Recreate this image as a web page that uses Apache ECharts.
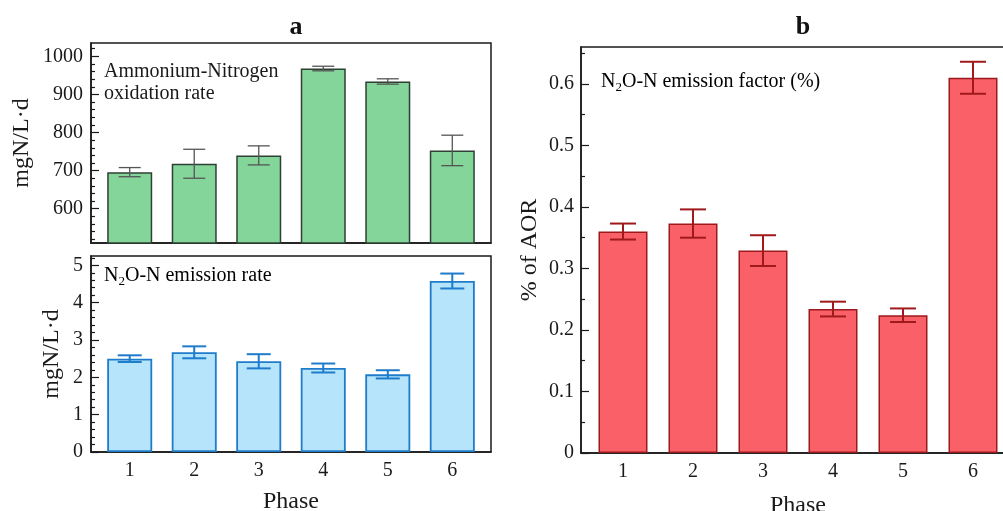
<!DOCTYPE html>
<html lang="en">
<head>
    <meta charset="utf-8">
    <title>Phase rates</title>
    <script src="https://cdn.jsdelivr.net/npm/echarts@6/dist/echarts.min.js"></script>
    <style>
        html, body { margin: 0; padding: 0; background: #fff; }
    </style>
</head>
<body>
    <div id="main" style="width:1003px;height:511px;"></div>

    <script type="text/javascript">

    // data
    var phases = [1, 2, 3, 4, 5, 6];
    var aorMean = [696, 718, 740, 968, 934, 753];
    var aorErr = [12, 38, 25, 6, 7, 40];
    var n2oMean = [2.50, 2.67, 2.43, 2.25, 2.08, 4.58];
    var n2oErr = [0.09, 0.16, 0.19, 0.12, 0.11, 0.20];
    var efMean = [0.360, 0.373, 0.329, 0.234, 0.224, 0.610];
    var efErr = [0.013, 0.023, 0.025, 0.012, 0.011, 0.026];

    // tick values
    var aorTicks = [600, 700, 800, 900, 1000];
    var aorMinor = [520, 540, 560, 580, 620, 640, 660, 680, 720, 740, 760, 780,
                    820, 840, 860, 880, 920, 940, 960, 980, 1020];
    var n2oTicks = [0, 1, 2, 3, 4, 5];
    var n2oMinor = [0.2, 0.4, 0.6, 0.8, 1.2, 1.4, 1.6, 1.8, 2.2, 2.4, 2.6, 2.8,
                    3.2, 3.4, 3.6, 3.8, 4.2, 4.4, 4.6, 4.8, 5.2];
    var efTicks = [0, 0.1, 0.2, 0.3, 0.4, 0.5, 0.6];
    var efMinor = [0.05, 0.15, 0.25, 0.35, 0.45, 0.55, 0.65];

    var FONT = 'Liberation Serif';
    var INK = '#1a1a1a';

    function barData(mean) {
        return phases.map(function (p, i) { return [p, mean[i]]; });
    }
    function errData(mean, err) {
        return phases.map(function (p, i) { return [p, mean[i] - err[i], mean[i] + err[i]]; });
    }

    // error bar drawn with the axis scales
    function errRender(cap, color, width) {
        return function (params, api) {
            var x = api.value(0);
            var top = api.coord([x, api.value(2)]);
            var bot = api.coord([x, api.value(1)]);
            var st = { stroke: color, lineWidth: width };
            return {
                type: 'group',
                children: [
                    { type: 'line', shape: { x1: top[0], y1: top[1], x2: bot[0], y2: bot[1] }, style: st },
                    { type: 'line', shape: { x1: top[0] - cap, y1: top[1], x2: top[0] + cap, y2: top[1] }, style: st },
                    { type: 'line', shape: { x1: bot[0] - cap, y1: bot[1], x2: bot[0] + cap, y2: bot[1] }, style: st }
                ]
            };
        };
    }

    function plain(v) { return String(v); }

    function xAxisFor(grid, showLabels, nameText, gap) {
        return {
            type: 'value', gridIndex: grid, min: 0.4, max: 6.6,
            splitLine: { show: false },
            axisLine: { show: true, onZero: false, lineStyle: { color: INK, width: 1.5 } },
            axisTick: { show: false },
            axisLabel: { show: showLabels, customValues: phases, margin: 9, formatter: plain,
                         fontFamily: FONT, fontSize: 20, color: INK },
            name: nameText, nameLocation: 'middle', nameGap: gap,
            nameTextStyle: { fontFamily: FONT, fontSize: 24, color: INK }
        };
    }

    function yMajor(grid, min, max, ticks, nameText, gap, margin) {
        return {
            type: 'value', gridIndex: grid, min: min, max: max, position: 'left',
            splitLine: { show: false },
            axisLine: { show: true, onZero: false, lineStyle: { color: INK, width: 1.5 } },
            axisTick: { show: true, inside: true, length: 8, customValues: ticks,
                        lineStyle: { color: INK, width: 1.2 } },
            axisLabel: { customValues: ticks, margin: margin, formatter: plain,
                         fontFamily: FONT, fontSize: 20, color: INK },
            name: nameText, nameLocation: 'middle', nameGap: gap, nameRotate: 90,
            nameTextStyle: { fontFamily: FONT, fontSize: 24, color: INK }
        };
    }

    function yMinor(grid, min, max, ticks) {
        return {
            type: 'value', gridIndex: grid, min: min, max: max, position: 'left', offset: 0,
            splitLine: { show: false },
            axisLine: { show: false },
            axisTick: { show: true, inside: true, length: 4, customValues: ticks,
                        lineStyle: { color: INK, width: 1.2 } },
            axisLabel: { show: false }
        };
    }

    var gridStyle = { show: true, borderColor: INK, borderWidth: 1.5,
                      backgroundColor: 'transparent', outerBoundsMode: 'none', containLabel: false };

    var myChart = echarts.init(document.getElementById('main'), null, { renderer: 'canvas' });

    var txt = { fontFamily: FONT, fontSize: 20, fill: INK };
    var rich = {
        n: { fontFamily: FONT, fontSize: 20, lineHeight: 24, verticalAlign: 'middle', color: INK },
        s: { fontFamily: FONT, fontSize: 13, lineHeight: 13, verticalAlign: 'bottom', color: INK }
    };

    myChart.setOption({
        animation: false,
        title: [
            { text: 'a', left: 291, top: 9, textAlign: 'center',
              textStyle: { fontFamily: FONT, fontSize: 26, fontWeight: 'bold', color: '#111' } },
            { text: 'b', left: 798, top: 9, textAlign: 'center',
              textStyle: { fontFamily: FONT, fontSize: 26, fontWeight: 'bold', color: '#111' } }
        ],
        grid: [
            Object.assign({ left: 91, top: 43, width: 400, height: 200 }, gridStyle),
            Object.assign({ left: 91, top: 256, width: 400, height: 196 }, gridStyle),
            Object.assign({ left: 581, top: 47, width: 434, height: 406 }, gridStyle)
        ],
        xAxis: [
            xAxisFor(0, false, '', 0),
            xAxisFor(1, true, 'Phase', 38),
            xAxisFor(2, true, 'Phase', 41)
        ],
        yAxis: [
            yMajor(0, 510, 1035, aorTicks, 'mgN/L·d', 57, 8),
            yMinor(0, 510, 1035, aorMinor),
            yMajor(1, 0, 5.25, n2oTicks, 'mgN/L·d', 27, 8),
            yMinor(1, 0, 5.25, n2oMinor),
            yMajor(2, 0, 0.66, efTicks, '% of AOR', 39, 7),
            yMinor(2, 0, 0.66, efMinor)
        ],
        graphic: [
            { type: 'text', left: 104, top: 61, z: 10,
              style: Object.assign({ text: 'Ammonium-Nitrogen\noxidation rate', lineHeight: 22 }, txt) },
            { type: 'text', left: 104, top: 266, z: 10,
              style: { text: '{n|N}{s|2}{n|O-N emission rate}', rich: rich } },
            { type: 'text', left: 601, top: 72, z: 10,
              style: { text: '{n|N}{s|2}{n|O-N emission factor (%)}', rich: rich } }
        ],
        series: [
            {
                name: 'AOR', type: 'bar', xAxisIndex: 0, yAxisIndex: 0,
                barWidth: 45, data: barData(aorMean),
                itemStyle: { color: '#84d59a', borderColor: '#2e4034', borderWidth: 1.5 }
            },
            {
                name: 'AOR err', type: 'custom', xAxisIndex: 0, yAxisIndex: 0, z: 5,
                encode: { x: 0, y: [1, 2] },
                renderItem: errRender(11, '#555', 1.3), data: errData(aorMean, aorErr)
            },
            {
                name: 'N2O rate', type: 'bar', xAxisIndex: 1, yAxisIndex: 2,
                barWidth: 45, data: barData(n2oMean),
                itemStyle: { color: '#b5e4fb', borderColor: '#1f7ccb', borderWidth: 1.8 }
            },
            {
                name: 'N2O err', type: 'custom', xAxisIndex: 1, yAxisIndex: 2, z: 5,
                encode: { x: 0, y: [1, 2] },
                renderItem: errRender(12, '#1f7ccb', 2), data: errData(n2oMean, n2oErr)
            },
            {
                name: 'EF', type: 'bar', xAxisIndex: 2, yAxisIndex: 4,
                barWidth: 49, data: barData(efMean),
                itemStyle: { color: '#fa6067', borderColor: '#9c1a1d', borderWidth: 1.5 }
            },
            {
                name: 'EF err', type: 'custom', xAxisIndex: 2, yAxisIndex: 4, z: 5,
                encode: { x: 0, y: [1, 2] },
                renderItem: errRender(13, '#a01a1c', 2), data: errData(efMean, efErr)
            }
        ]
    });

    </script>
</body>
</html>
